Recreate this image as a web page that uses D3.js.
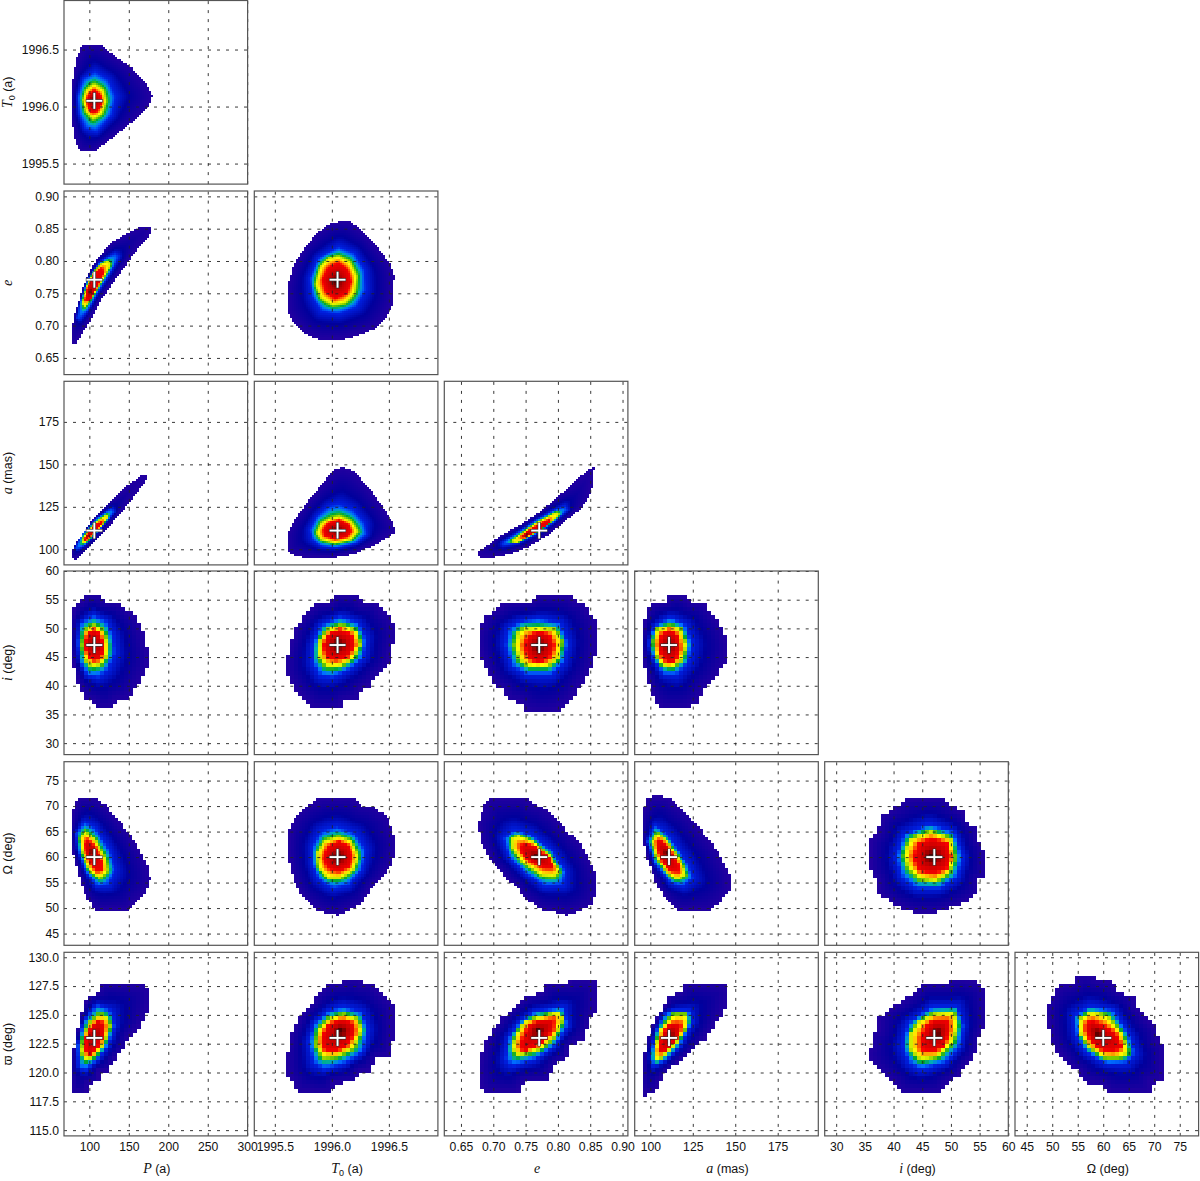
<!DOCTYPE html>
<html>
<head>
<meta charset="utf-8">
<style>
 body { margin: 0; background: #fff; }
 text { font-family: "Liberation Sans", sans-serif; fill: #111; }
 .mathvar { font-family: "Liberation Serif", serif; font-style: italic; }
</style>
<script src="https://cdn.jsdelivr.net/npm/d3@7"></script>
</head>
<body>
<svg id="chart" width="1200" height="1181"></svg>
<script>
'use strict'
// Posterior maps of the orbit parameters. Every map is read off the picture as four nested
// outlines (edge, blue ring, yellow ring, red ring) and the darkest spot, in data units.

const axisNames = ["P", "T0", "e", "a", "i", "Om", "w"];
const axisDomains = [[67.9, 300.5], [1995.32, 1996.93], [0.6242, 0.9083], [90.8, 198.9], [28, 60], [42.7, 78.7], [114.5, 130.43]];
const bestFit = [106.3, 1996.05, 0.771, 111, 47.1, 60, 123];

const ticksP = [100, 150, 200, 250, 300];
const ticksT0 = [1995.5, 1996, 1996.5];
const ticksE = [0.65, 0.7, 0.75, 0.8, 0.85, 0.9];
const ticksA = [100, 125, 150, 175];
const ticksI = [30, 35, 40, 45, 50, 55, 60];
const ticksOm = [45, 50, 55, 60, 65, 70, 75];
const ticksW = [115, 117.5, 120, 122.5, 125, 127.5, 130];
const axisTicks = [ticksP, ticksT0, ticksE, ticksA, ticksI, ticksOm, ticksW];
const axisFormats = ["d", ".1f", ".2f", "d", "d", "d", ".1f"];

const P_T0 = [
 [[98.7,1996.55],[113.4,1996.55],[130.3,1996.45],[153.4,1996.34],[172.3,1996.19],[178.6,1996.09],[172.3,1995.99],[153.4,1995.87],[128.2,1995.73],[105,1995.61],[88.2,1995.61],[81.9,1995.71],[77.7,1995.89],[76.9,1996.03],[77.7,1996.18],[83.2,1996.41],[90.3,1996.54]],
 [[107.1,1996.31],[123.9,1996.24],[133.2,1996.09],[128.2,1995.93],[109.2,1995.78],[94.5,1995.81],[86.6,1995.94],[84.9,1996.09],[91.6,1996.25]],
 [[105.9,1996.2],[117.6,1996.15],[121,1996.05],[115.5,1995.94],[105,1995.9],[95.8,1995.96],[92.4,1996.06],[95.8,1996.15]],
 [[105.9,1996.15],[114.3,1996.1],[115.5,1996.03],[109.2,1995.96],[102.9,1995.95],[97.9,1996.02],[97.5,1996.09]],
 [104.2,1996.06]];
const P_E = [
 [[176.5,.853],[166,.853],[149.2,.844],[130.3,.83],[113.4,.809],[100.8,.786],[90.3,.753],[81.9,.719],[76.9,.691],[76.9,.675],[81.9,.673],[90.3,.691],[100.8,.711],[111.3,.737],[126.1,.763],[142.9,.791],[159.7,.82],[172.3,.835],[177.7,.848]],
 [[132.4,.812],[137.8,.807],[126.1,.781],[111.3,.753],[98.7,.724],[88.2,.709],[84,.711],[88.2,.737],[97.5,.771],[113.4,.799]],
 [[124,.8],[126.9,.794],[117.6,.773],[105,.747],[94.5,.729],[91.2,.734],[95.8,.758],[105,.783],[115.5,.796]],
 [[115.5,.789],[118.5,.782],[109.2,.758],[100,.737],[94.5,.74],[97.5,.758],[105,.776],[111.3,.786]],
 [100.8,.753]];
const P_A = [
 [[171.4,143.3],[166,143.3],[147.1,136.9],[121.8,126.1],[100.8,115.3],[81.9,102.5],[76.9,96.7],[80.7,94.3],[88.2,96.7],[107.1,105.5],[130.3,117.3],[153.4,130],[172.3,141.8]],
 [[128.2,124.1],[132.4,122.2],[113.4,111.4],[94.5,102.2],[84.9,99.6],[81.9,100.6],[90.3,108.4],[109.2,118.2]],
 [[121.8,120.2],[124.4,118.8],[111.3,111.4],[97.5,104.5],[91.6,103.5],[92.4,106.5],[105,114.3],[115.5,118.2]],
 [[115.5,116.3],[117.6,115.3],[107.1,110.4],[96.6,105.5],[93.3,104.5],[95.8,107.8],[105,113.3]],
 [98.7,107.5]];
const T0_E = [
 [[1996.09,.862],[1996.16,.861],[1996.3,.84],[1996.43,.814],[1996.51,.794],[1996.54,.778],[1996.53,.737],[1996.48,.716],[1996.39,.698],[1996.25,.688],[1996.1,.68],[1995.91,.679],[1995.77,.688],[1995.67,.706],[1995.62,.722],[1995.61,.76],[1995.67,.794],[1995.77,.822],[1995.87,.843],[1995.99,.858]],
 [[1996.06,.822],[1996.2,.812],[1996.29,.786],[1996.3,.755],[1996.22,.729],[1996.06,.718],[1995.91,.722],[1995.83,.745],[1995.81,.773],[1995.88,.804]],
 [[1996.06,.807],[1996.16,.799],[1996.22,.776],[1996.2,.75],[1996.12,.735],[1996.01,.732],[1995.91,.742],[1995.86,.763],[1995.9,.791],[1995.97,.804]],
 [[1996.06,.797],[1996.14,.786],[1996.17,.768],[1996.13,.75],[1996.03,.742],[1995.95,.753],[1995.92,.771],[1995.97,.789]],
 [1996.04,.768]];
const T0_A = [
 [[1996.1,148],[1996.19,145.7],[1996.32,135.9],[1996.44,125.1],[1996.52,116.3],[1996.56,110.4],[1996.51,108.4],[1996.36,102.5],[1996.19,97.6],[1995.99,95.3],[1995.78,95.3],[1995.64,97.6],[1995.61,100.6],[1995.61,108.4],[1995.67,116.3],[1995.78,127.1],[1995.9,136.9],[1996.01,146.3]],
 [[1996.06,126.5],[1996.19,123.1],[1996.29,115.3],[1996.31,108.4],[1996.22,103.5],[1996.04,100.6],[1995.91,101.6],[1995.83,105.5],[1995.81,111.4],[1995.87,119.2],[1995.97,125.1]],
 [[1996.07,119.2],[1996.17,116.3],[1996.23,110.4],[1996.17,105.5],[1996.03,103.5],[1995.91,105.5],[1995.87,109.4],[1995.91,115.3],[1996,118.2]],
 [[1996.07,116.9],[1996.15,114.3],[1996.17,110.4],[1996.13,107.1],[1996.03,105.9],[1995.94,107.8],[1995.93,111.4],[1995.97,115.3]],
 [1996.05,111]];
const E_A = [
 [[.855,148.2],[.847,146.7],[.824,138.8],[.798,130],[.773,122.2],[.742,114.3],[.711,107.5],[.682,99.6],[.675,97.3],[.682,95.7],[.698,95.7],[.726,97.6],[.752,101.6],[.783,108.4],[.811,117.3],[.835,124.1],[.847,131],[.853,138.8]],
 [[.811,125.5],[.816,123.1],[.796,116.3],[.77,109.4],[.739,103.5],[.716,102.2],[.713,103.5],[.737,109.4],[.768,117.3],[.793,122.6]],
 [[.798,121.6],[.803,120.2],[.786,114.9],[.76,108.4],[.737,103.5],[.728,104.5],[.739,107.5],[.765,114.9],[.786,119.2]],
 [[.788,117.3],[.789,115.3],[.77,111],[.749,106.5],[.743,107.1],[.757,111.4],[.775,115.3]],
 [.753,108.4]];
const P_I = [
 [[95.8,55.9],[113.4,55.9],[119.7,54.7],[136.6,54.6],[149.2,53],[159.7,51.8],[168.1,48.9],[174.4,45.2],[172.3,43.4],[166,41.4],[149.2,37.9],[134.5,37.3],[128.2,36.1],[108.4,36.1],[105,37.3],[94.5,37.9],[86.1,40.5],[80.7,43.4],[76.9,46.9],[77.7,51.3],[81.9,54.4],[90.3,54.7]],
 [[105,52.4],[121.8,51.3],[130.3,48.7],[132.4,45.8],[123.9,42.9],[111.3,41.4],[97.5,41.7],[88.2,44],[84.9,47.5],[88.2,51]],
 [[105,50.5],[117.6,49.5],[122.7,47.2],[121.8,45.2],[113.4,43.7],[102.9,43.4],[94.5,44.6],[91.2,46.9],[93.3,49.5]],
 [[105,49.8],[113.4,48.9],[118.5,46.6],[113.4,44.7],[105,44.5],[97.5,45.5],[94.5,47.2],[97.5,48.9]],
 [105,47.2]];
const T0_I = [
 [[1996.01,55.9],[1996.22,55.9],[1996.26,54.6],[1996.39,54.6],[1996.44,53],[1996.52,51.8],[1996.56,48.9],[1996.52,46.6],[1996.49,43.7],[1996.38,41.7],[1996.33,40.2],[1996.25,39.4],[1996.23,37.9],[1996.1,37.3],[1996.06,36.1],[1995.83,36.1],[1995.79,37.3],[1995.71,38.8],[1995.65,40.5],[1995.61,42.3],[1995.61,44.9],[1995.64,47.2],[1995.69,50.4],[1995.78,52.7],[1995.87,54.6],[1996,54.6]],
 [[1996.07,52.1],[1996.23,51],[1996.3,48.1],[1996.28,44.9],[1996.16,42.9],[1996.01,41.4],[1995.9,41.7],[1995.83,44],[1995.83,46.9],[1995.9,50.4]],
 [[1996.09,50.5],[1996.22,49.5],[1996.25,47.2],[1996.19,44.9],[1996.07,43.4],[1995.96,43.4],[1995.89,45.2],[1995.9,48.1],[1995.97,49.8]],
 [[1996.07,49.8],[1996.17,48.9],[1996.2,47.2],[1996.15,45.2],[1996.04,44.6],[1995.96,45.1],[1995.93,46.9],[1995.97,48.9]],
 [1996.05,47.2]];
const E_I = [
 [[.773,55.8],[.816,55.8],[.827,54.7],[.842,54.5],[.847,52.9],[.858,51.5],[.859,47.4],[.854,44],[.845,41.9],[.829,39],[.816,37.3],[.803,36],[.786,35.3],[.765,35.3],[.749,36],[.742,37.3],[.726,37.5],[.716,39.3],[.703,40.2],[.69,42.8],[.682,45.1],[.677,47.4],[.677,49.2],[.688,52.1],[.711,53.8],[.719,54.7],[.76,54.7]],
 [[.77,51.8],[.804,50.9],[.816,47.4],[.809,44],[.791,41.9],[.752,41.9],[.729,43.4],[.719,47.2],[.724,50],[.742,51.2]],
 [[.77,50],[.796,49.8],[.806,47.7],[.801,44.8],[.783,43.4],[.757,43.4],[.742,44.5],[.734,46.9],[.739,49.2],[.749,50]],
 [[.77,49.5],[.786,48.9],[.794,46.9],[.786,44.8],[.77,44.1],[.756,44.8],[.749,46.9],[.756,48.6]],
 [.77,46.9]];
const A_I = [
 [[110,55.8],[119.4,55.8],[123.3,54.7],[131.2,54.5],[136.1,52.7],[142.9,50],[145.9,46.9],[143.9,44.2],[138,41.3],[131.2,39.3],[127.3,37.3],[120.4,36],[107.6,36],[102.7,37.3],[99.4,39.9],[96.3,43.4],[94.9,46.9],[96.3,51.5],[99.8,54.5],[109.6,54.7]],
 [[111.6,52],[120.4,50.6],[124.3,47.4],[122.4,44.2],[115.5,41.9],[107.6,41.9],[101.8,44.5],[98.8,47.4],[101.8,50.3]],
 [[111.6,50.4],[117.5,49.8],[120.8,47.1],[118.4,44.5],[112.5,43.3],[106.7,43.7],[102.7,45.7],[101.8,48],[103.7,49.8]],
 [[111.6,49.8],[115.9,48.6],[117.1,46.3],[114.5,44.5],[110.6,43.9],[106.7,45.1],[104.7,47.1],[106.7,48.9]],
 [110.6,47.1]];
const P_Om = [
 [[84.9,71.7],[107.1,71.7],[121.8,69.9],[142.9,66],[163.9,61.4],[174.4,57.5],[176.5,55.6],[170.2,53],[153.4,50.7],[147.1,49.7],[109.2,49.7],[97.5,51.7],[88.2,55.6],[80.7,60.1],[76.9,64],[78.6,68.6]],
 [[93.3,67],[107.1,65.7],[125.6,61.4],[132.4,57.5],[123.9,54.6],[109.2,54.3],[94.5,57.5],[86.1,61.1],[83.2,64.7]],
 [[94.5,65],[107.1,63.4],[121,59.5],[122.7,57.2],[113.4,55.9],[100.8,57.2],[91.6,60.5],[88.2,63.7]],
 [[97.5,63.4],[107.1,62.1],[115.5,59.2],[115.5,57.5],[109.2,57.2],[101.7,58.8],[95.4,61.1],[94.5,62.7]],
 [104.2,61.1]];
const T0_Om = [
 [[1995.9,71.7],[1996.17,71.7],[1996.26,70.2],[1996.36,69.9],[1996.49,67.9],[1996.52,65.3],[1996.56,62.7],[1996.52,58.8],[1996.45,56.5],[1996.33,53.6],[1996.26,51],[1996.13,49.7],[1996.04,48.7],[1995.97,49.1],[1995.85,50],[1995.77,51.7],[1995.69,54.3],[1995.64,57.5],[1995.61,61.4],[1995.62,65.3],[1995.68,67.9],[1995.77,70]],
 [[1996.04,66],[1996.2,64.7],[1996.29,61.4],[1996.26,57.5],[1996.15,54.6],[1996.01,53.9],[1995.88,55.6],[1995.83,58.8],[1995.83,62.1],[1995.9,65]],
 [[1996.06,64],[1996.17,63.1],[1996.23,60.1],[1996.19,57.5],[1996.07,55.9],[1995.97,55.9],[1995.88,57.9],[1995.87,60.8],[1995.93,63.1]],
 [[1996.06,63.1],[1996.15,62.1],[1996.17,60.1],[1996.15,58.2],[1996.06,57.2],[1995.97,57.9],[1995.93,59.8],[1995.97,62.1]],
 [1996.05,60]];
const E_Om = [
 [[.69,71.2],[.699,71.7],[.749,71.7],[.758,70.6],[.778,69.6],[.797,67.6],[.814,65],[.834,62.7],[.851,58.8],[.86,55.9],[.86,53.6],[.851,50.7],[.828,49.4],[.814,48.7],[.797,49.4],[.778,49.7],[.752,51.7],[.738,53.9],[.719,56.2],[.696,59.5],[.682,63.1],[.676,66.6]],
 [[.733,65.3],[.758,64.4],[.792,61.1],[.811,57.2],[.808,54.6],[.78,54.3],[.749,56.9],[.724,60.1],[.716,63.7]],
 [[.739,64.2],[.761,63.1],[.789,60.1],[.803,57.2],[.794,56.2],[.775,56.5],[.744,59.2],[.73,61.8],[.729,63.7]],
 [[.749,62.7],[.766,62],[.786,59.9],[.794,57.9],[.78,57.9],[.758,59.2],[.744,60.8],[.742,62.2]],
 [.766,60.1]];
const A_Om = [
 [[98.3,71.7],[102.6,72],[110,71.7],[121.7,68.3],[130.3,65],[138.8,61.4],[146.3,56.5],[146.3,53.6],[140.9,51.3],[134.5,49.7],[116.4,49.7],[111.1,51.3],[104.7,53.9],[98.3,59.5],[95.1,65],[95.1,67.9]],
 [[102.6,66.3],[110,64.4],[121.7,58.8],[124.9,55.9],[119.6,54.3],[112.2,54.9],[102.6,58.8],[97.9,63.1]],
 [[104.1,64.7],[110,63.1],[118.6,58.8],[120.7,56.5],[115.4,55.6],[109,57.2],[103.6,60.1],[101.1,63.1]],
 [[105.8,63.4],[111.1,61.8],[116.4,58.5],[116.4,57.2],[112.2,57.2],[106.8,59.2],[104.1,61.8],[104.1,63.1]],
 [109.4,60.8]];
const I_Om = [
 [[40.4,69.9],[42.3,71.7],[48.6,71.7],[49.5,70.6],[52.1,68.9],[53,66.6],[54.6,65.7],[54.6,63.1],[55.7,61.4],[55.9,55.9],[54.6,55.6],[54.6,53],[52.1,51],[47.3,49.2],[43.9,49.2],[39.8,50.7],[37.2,53.3],[37.2,55.6],[36,57.2],[36,63.4],[37.2,65],[37.9,68.3]],
 [[46.1,66.6],[50.5,65],[52,60.1],[51.1,56.2],[48,53.9],[43.9,53.9],[41.3,56.2],[40.4,60.1],[41.7,64.4]],
 [[46.4,65],[49.9,63.7],[50.5,59.8],[49.5,56.9],[47.3,55.4],[44.5,55.9],[42.6,57.9],[41.8,60.5],[42.9,63.7]],
 [[46.7,63.7],[49.2,62.7],[49.9,60.1],[49.2,57.9],[47,56.9],[44.5,57.5],[43.5,60.1],[44.5,62.7]],
 [46.7,60.1]];
const P_W = [
 [[77.7,118.2],[95.8,118.2],[97.5,119.1],[111.3,119.2],[111.3,120.1],[122.7,120.2],[132.4,121.3],[142.9,122.1],[149.2,123.1],[163.9,124.1],[172.3,125.3],[176.5,126],[174.4,127.2],[163.9,127.8],[115.5,127.8],[111.3,126.9],[98.7,126.5],[92.4,125.7],[86.1,124],[79.8,122],[76.9,120]],
 [[109.2,125.9],[126.1,125.4],[132.4,124.1],[123.9,122.3],[109.2,121],[94.5,120.1],[86.1,120.4],[84.9,122.3],[92.4,124.4]],
 [[113.4,125],[123.9,124.7],[126.1,123.9],[117.6,122.4],[107.1,121.4],[95.8,121.1],[90.3,121.7],[92.4,123.1],[100.8,124.3]],
 [[111.3,124.5],[118.5,124.1],[118.5,123.3],[111.3,122.3],[100.8,121.5],[95.8,121.8],[95.8,123],[102.9,124]],
 [105,123.1]];
const T0_W = [
 [[1995.71,118.2],[1996,118.2],[1996.01,119.1],[1996.19,119.2],[1996.24,120.1],[1996.33,120.2],[1996.38,121.3],[1996.51,121.4],[1996.54,123.7],[1996.54,125.9],[1996.42,126.9],[1996.35,127.8],[1996.26,127.8],[1996.26,128.1],[1996.1,128.1],[1996.1,127.8],[1995.99,127.8],[1995.9,127],[1995.8,125.7],[1995.72,124.7],[1995.65,123.4],[1995.61,121.4],[1995.61,119.8],[1995.68,118.8]],
 [[1996.1,125.7],[1996.26,125.2],[1996.32,123.7],[1996.28,121.8],[1996.13,120.8],[1995.94,120.2],[1995.84,120.8],[1995.8,122.6],[1995.85,124.3],[1995.97,125.3]],
 [[1996.1,125],[1996.23,124.6],[1996.26,123.6],[1996.19,122.1],[1996.04,121.4],[1995.93,121.3],[1995.87,122.3],[1995.88,123.6],[1995.97,124.6]],
 [[1996.09,124.6],[1996.19,124.2],[1996.2,123.4],[1996.13,122.3],[1996.03,121.8],[1995.94,122],[1995.91,122.8],[1995.97,124.1]],
 [1996.08,123.6]];
const E_W = [
 [[.688,118.2],[.737,118.2],[.747,119.2],[.783,119.3],[.796,120.8],[.814,121.3],[.816,122.3],[.837,122.8],[.85,124.7],[.858,125.4],[.861,127],[.858,127.8],[.845,128.1],[.819,128.1],[.819,127.8],[.783,127.8],[.775,126.9],[.749,126.5],[.734,125.7],[.713,124.7],[.69,122.8],[.682,121.5],[.677,120.4],[.68,119.1]],
 [[.765,125.3],[.809,125.6],[.816,124.1],[.796,122.3],[.765,121.1],[.729,120.5],[.719,121.1],[.724,123],[.742,124.4]],
 [[.76,124.6],[.801,125.2],[.808,124.6],[.796,123.1],[.773,122],[.739,121.5],[.73,122.1],[.737,123.4],[.75,124.4]],
 [[.768,124.4],[.793,124.6],[.793,123.7],[.775,122.6],[.747,121.8],[.742,122.4],[.75,123.4],[.757,124.1]],
 [.77,123.6]];
const A_W = [
 [[96.3,117.8],[97.5,118.2],[102.7,118.2],[104.7,119.2],[109.6,120.2],[119.4,121.3],[127.3,122.3],[133.1,123.1],[140,124.6],[143.9,125.7],[146.5,127],[142,127.8],[120.4,127.8],[117.5,126.9],[111.6,126.7],[105.7,125.2],[99.8,123.7],[95.9,121.4],[94.5,119.1]],
 [[113.5,125.4],[122.4,125.4],[124.3,124.4],[117.5,122.3],[109.6,121.1],[101.8,120.5],[99.8,121.4],[102.7,123.4],[107.6,125]],
 [[113.5,125],[121.4,125],[121.8,124.1],[115.5,122.6],[106.7,121.3],[102.7,121],[102.7,122.1],[105.7,123.7]],
 [[112.5,124.2],[117.5,124.1],[117.1,123.4],[112.5,122.4],[107.3,121.7],[104.7,121.8],[106.7,123.1],[109.6,123.9]],
 [111.6,123.1]];
const I_W = [
 [[41.5,118.2],[48,118.2],[49,119],[51.3,119.7],[52.8,120.8],[54,121.3],[54.8,123.1],[56.1,124.4],[56.1,126.9],[54.8,127.8],[52.1,128.1],[49.4,128.1],[49.4,127.8],[44.9,127.8],[43.8,127],[41.5,126.2],[38.9,125.4],[37.4,124.7],[37.4,123.6],[36.1,123.4],[36.1,122],[35.4,122],[36.2,120.8],[38.2,119.8],[40.1,119.1]],
 [[46.7,125.7],[51,125.7],[52.2,124],[51.6,122.3],[49,120.8],[44.7,120.2],[42.6,120.8],[41.5,122.4],[42.6,124.3]],
 [[46.7,125],[50.4,125.2],[51.1,124.2],[50.2,122.6],[47.6,121.4],[44.7,121.1],[42.9,122],[42.9,123.3],[44.4,124.4]],
 [[47,124.5],[49.4,124.5],[49.6,123.6],[48.7,122.3],[47,121.8],[44.9,122],[44.9,123],[45.8,124]],
 [47.6,123.4]];
const Om_W = [
 [[55.4,128.5],[57.1,128.5],[58.7,128.1],[61.6,127.8],[62.9,127],[65.9,126.5],[66.2,125.7],[68.2,124.7],[70.1,123.9],[70.8,122.7],[71.8,122.4],[71.8,120],[71.1,119.2],[69.2,119.1],[69.2,118.2],[61.8,118.2],[59.7,119],[55.8,119.2],[55.4,120.1],[52.8,120.8],[50.8,122],[49.5,123],[49.2,124.7],[48.7,125],[49.5,126.3],[51.5,127.6],[54.1,127.8]],
 [[57.4,125.7],[62,125.4],[65.2,123.1],[66.2,121.7],[64.6,120.8],[60.7,120.7],[56.7,121.7],[54.8,123.1],[54.4,124.9]],
 [[57.4,125.2],[60.7,124.9],[63.6,123.4],[64.9,121.7],[63.3,121.3],[60,121.3],[57.1,122.3],[55.4,123.4],[55.4,124.6]],
 [[57.7,124.5],[60.3,123.9],[62.3,123.4],[63.6,122.3],[62,121.8],[59.7,122],[57.7,122.6],[56.7,123.6],[56.7,124.1]],
 [59,123.4]];

// [column axis, row axis, map]
const panelList = [
 [0, 1, P_T0],
 [0, 2, P_E], [1, 2, T0_E],
 [0, 3, P_A], [1, 3, T0_A], [2, 3, E_A],
 [0, 4, P_I], [1, 4, T0_I], [2, 4, E_I], [3, 4, A_I],
 [0, 5, P_Om], [1, 5, T0_Om], [2, 5, E_Om], [3, 5, A_Om], [4, 5, I_Om],
 [0, 6, P_W], [1, 6, T0_W], [2, 6, E_W], [3, 6, A_W], [4, 6, I_W], [5, 6, Om_W]
];

// Colour along the level, 0 at the edge of a map and 1 at its darkest spot
const ringLevels = [0, 0.3, 0.68, 0.85, 1];
const colorStops = [0, 0.18, 0.3, 0.42, 0.5, 0.57, 0.63, 0.68, 0.72, 0.78, 0.84, 0.92, 0.97, 1];
const colorValues = ["#2200a0", "#00009c", "#0020e0", "#0070ff", "#00b0b0", "#00a830", "#70c800", "#c8e800", "#ffff00", "#ff9000", "#f80000", "#c00000", "#700000", "#300000"];
const levelColor = d3.scaleLinear().domain(colorStops).range(colorValues);

// Layout
const colLeft = [64, 254.3, 444.3, 634.7, 824.7, 1015];
const rowTop = [0.5, 191, 381.3, 571, 761.7, 952.3];
const panelSize = 183.6;
const binSize = [2, 2, 2, 2, 4, 2.8, 4];

const svg = d3.select("#chart");

function ringDistance(pt, ring) {
 let best = Infinity;
 for (let n = 0; n < ring.length; n++) {
  const a = ring[n], b = ring[(n + 1) % ring.length];
  const dx = b[0] - a[0], dy = b[1] - a[1];
  let u = ((pt[0] - a[0]) * dx + (pt[1] - a[1]) * dy) / (dx * dx + dy * dy || 1);
  u = Math.max(0, Math.min(1, u));
  best = Math.min(best, Math.hypot(pt[0] - a[0] - u * dx, pt[1] - a[1] - u * dy));
 }
 return best;
}

function cellLevel(pt, rings, peak) {
 if (!d3.polygonContains(rings[0], pt)) return null;
 let k = 0;
 while (k < 3 && d3.polygonContains(rings[k + 1], pt)) k++;
 const toOuter = ringDistance(pt, rings[k]);
 const toInner = k < 3 ? ringDistance(pt, rings[k + 1]) : Math.hypot(pt[0] - peak[0], pt[1] - peak[1]);
 return ringLevels[k] + (ringLevels[k + 1] - ringLevels[k]) * toOuter / (toOuter + toInner || 1);
}

// Draw one panel
function drawPanel(xAxis, yAxis, map) {
 const col = xAxis, row = yAxis - 1;
 const x = d3.scaleLinear().domain(axisDomains[xAxis]).range([0, panelSize]);
 const y = d3.scaleLinear().domain(axisDomains[yAxis]).range([panelSize, 0]);
 const g = svg.append("g").attr("transform", "translate(" + colLeft[col] + "," + rowTop[row] + ")");

 const rings = map.slice(0, 4).map(r => r.map(d => [x(d[0]), y(d[1])]));
 const peak = [x(map[4][0]), y(map[4][1])];
 const bin = Math.max(binSize[xAxis], binSize[yAxis]);
 const cells = [];
 for (let cy = 0; cy < panelSize; cy += bin) {
  for (let cx = 0; cx < panelSize; cx += bin) {
   const level = cellLevel([cx + bin / 2, cy + bin / 2], rings, peak);
   if (level !== null) cells.push({ cx, cy, level });
  }
 }
 g.selectAll("rect.cell").data(cells).join("rect")
  .attr("class", "cell")
  .attr("x", d => d.cx)
  .attr("y", d => d.cy)
  .attr("width", bin + 0.6)
  .attr("height", bin + 0.6)
  .attr("shape-rendering", "crispEdges")
  .attr("fill", d => levelColor(d.level));

 // Dashed grid on top of the map
 const gridX = g.append("g").attr("transform", "translate(0," + panelSize + ")")
  .call(d3.axisBottom(x).tickValues(axisTicks[xAxis]).tickSize(-panelSize).tickFormat(""));
 const gridY = g.append("g")
  .call(d3.axisLeft(y).tickValues(axisTicks[yAxis]).tickSize(-panelSize).tickFormat(""));
 [gridX, gridY].forEach(s => {
  s.select(".domain").remove();
  s.selectAll("line").attr("stroke", "#222").attr("stroke-width", 0.9).attr("stroke-dasharray", "3,6");
 });

 // Best fit cross
 const cross = g.append("g").attr("transform", "translate(" + x(bestFit[xAxis]) + "," + y(bestFit[yAxis]) + ")");
 [["#333", 3.2, 8.5], ["#fff", 1.9, 8]].forEach(s => {
  cross.append("line").attr("x1", -s[2]).attr("x2", s[2]).attr("stroke", s[0]).attr("stroke-width", s[1]);
  cross.append("line").attr("y1", -s[2]).attr("y2", s[2]).attr("stroke", s[0]).attr("stroke-width", s[1]);
 });

 g.append("rect").attr("width", panelSize).attr("height", panelSize)
  .attr("fill", "none").attr("stroke", "#555").attr("stroke-width", 1.2);

 // Tick labels only on the outer edge of the triangle
 if (row === 5) {
  const ax = g.append("g").attr("transform", "translate(0," + panelSize + ")")
   .call(d3.axisBottom(x).tickValues(axisTicks[xAxis]).tickSize(0).tickPadding(6).tickFormat(d3.format(axisFormats[xAxis])));
  ax.select(".domain").remove();
  ax.selectAll("text").attr("font-size", 12.2).attr("font-family", "Liberation Sans").attr("fill", "#111");
 }
 if (col === 0) {
  const ay = g.append("g")
   .call(d3.axisLeft(y).tickValues(axisTicks[yAxis]).tickSize(0).tickPadding(5).tickFormat(d3.format(axisFormats[yAxis])));
  ay.select(".domain").remove();
  ay.selectAll("text").attr("font-size", 12.2).attr("font-family", "Liberation Sans").attr("fill", "#111");
 }
}

panelList.forEach(p => drawPanel(p[0], p[1], p[2]));

// Axis titles: [symbol, subscript, unit, symbol is a math variable]
const axisTitles = [["P", "", " (a)", true], ["T", "0", " (a)", true], ["e", "", "", true], ["a", "", " (mas)", true], ["i", "", " (deg)", true], ["Ω", "", " (deg)", false], ["ϖ", "", " (deg)", false]];

function writeTitle(t, title) {
 t.attr("text-anchor", "middle").attr("font-size", 12.5);
 t.append("tspan").attr("class", title[3] ? "mathvar" : null).attr("font-size", title[3] ? 14 : 12.5).text(title[0]);
 if (title[1]) t.append("tspan").attr("font-size", 9).attr("dy", 3).text(title[1]);
 if (title[2]) t.append("tspan").attr("dy", title[1] ? -3 : 0).text(title[2]);
}

axisNames.slice(0, 6).forEach((n, i) => {
 const t = svg.append("text").attr("x", colLeft[i] + panelSize / 2 + 1).attr("y", 1173);
 writeTitle(t, axisTitles[i]);
});
axisNames.slice(1).forEach((n, i) => {
 const t = svg.append("text")
  .attr("transform", "translate(12," + (rowTop[i] + panelSize / 2) + ") rotate(-90)");
 writeTitle(t, axisTitles[i + 1]);
});
</script>
</body>
</html>
